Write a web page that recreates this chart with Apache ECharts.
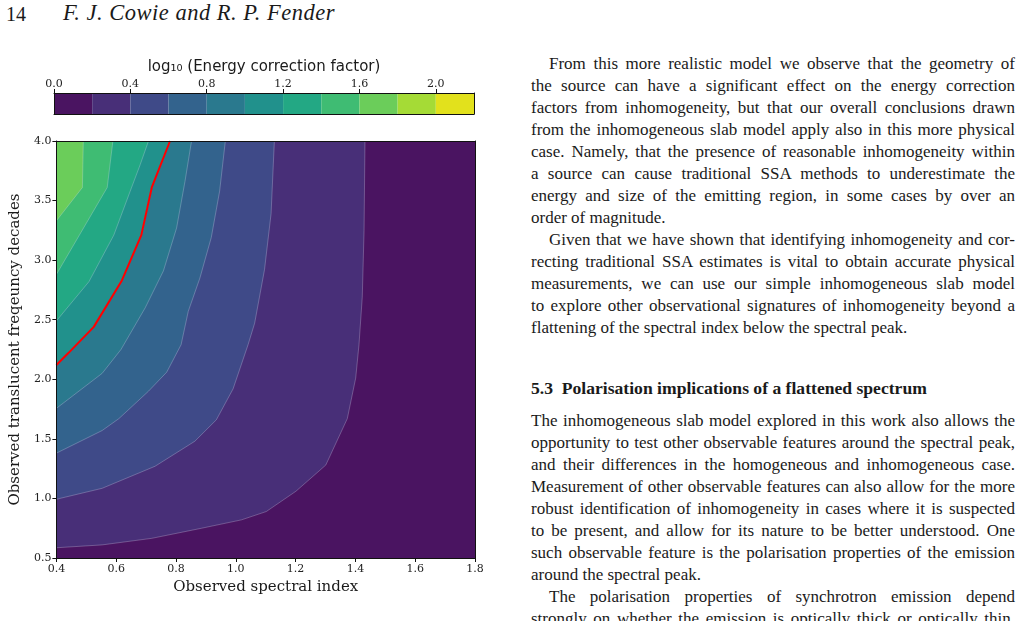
<!DOCTYPE html>
<html>
<head>
<meta charset="utf-8">
<script src="https://cdn.jsdelivr.net/npm/echarts@6/dist/echarts.min.js"></script>
<style>
  html, body { margin: 0; padding: 0; background: #fff; width: 1024px; height: 621px; overflow: hidden; }
  #chart { position: absolute; left: 0; top: 0; width: 500px; height: 621px; }
  .txt { position: absolute; font-family: "Liberation Serif", "Times New Roman", serif; color: #1a1a1a; }
  .head { top: 1px; font-size: 20px; line-height: 26px; }
  .name { font-size: 22.5px; font-style: italic; letter-spacing: 0.5px; top: 0px; }
  .col { left: 531px; width: 484px; font-size: 17px; line-height: 22px; white-space: nowrap; }
  .col div { height: 22px; }
  .j { text-align: justify; text-align-last: justify; }
  .ind { padding-left: 18px; }
  .h { font-weight: bold; font-size: 17.6px; }
</style>
</head>
<body>
<div class="txt head" style="left:6px;">14</div>
<div class="txt head name" style="left:63px;">F. J. Cowie and R. P. Fender</div>

<div class="txt col" style="top:53px;">
  <div class="j ind">From this more realistic model we observe that the geometry of</div>
  <div class="j">the source can have a significant effect on the energy correction</div>
  <div class="j">factors from inhomogeneity, but that our overall conclusions drawn</div>
  <div class="j">from the inhomogeneous slab model apply also in this more physical</div>
  <div class="j">case. Namely, that the presence of reasonable inhomogeneity within</div>
  <div class="j">a source can cause traditional SSA methods to underestimate the</div>
  <div class="j">energy and size of the emitting region, in some cases by over an</div>
  <div>order of magnitude.</div>
  <div class="j ind">Given that we have shown that identifying inhomogeneity and cor-</div>
  <div class="j">recting traditional SSA estimates is vital to obtain accurate physical</div>
  <div class="j">measurements, we can use our simple inhomogeneous slab model</div>
  <div class="j">to explore other observational signatures of inhomogeneity beyond a</div>
  <div>flattening of the spectral index below the spectral peak.</div>
</div>

<div class="txt col h" style="top:377px;">5.3&nbsp;&nbsp;Polarisation implications of a flattened spectrum</div>

<div class="txt col" style="top:410px;">
  <div class="j">The inhomogeneous slab model explored in this work also allows the</div>
  <div class="j">opportunity to test other observable features around the spectral peak,</div>
  <div class="j">and their differences in the homogeneous and inhomogeneous case.</div>
  <div class="j">Measurement of other observable features can also allow for the more</div>
  <div class="j">robust identification of inhomogeneity in cases where it is suspected</div>
  <div class="j">to be present, and allow for its nature to be better understood. One</div>
  <div class="j">such observable feature is the polarisation properties of the emission</div>
  <div>around the spectral peak.</div>
  <div class="j ind">The polarisation properties of synchrotron emission depend</div>
  <div class="j">strongly on whether the emission is optically thick or optically thin.</div>
</div>

<div id="chart"></div>

<script>
// axes
var xRange = [0.4, 1.8];
var yRange = [0.5, 4.0];
var xTickStep = 0.2;
var yTickStep = 0.5;

// contour levels (log10 energy correction factor) and colours
var levels = [0.0, 0.2, 0.4, 0.6, 0.8, 1.0, 1.2, 1.4, 1.6, 1.8, 2.0, 2.2];
var levelColors = ['#4a1461', '#482f78', '#3f4a88', '#33638d', '#2a798e', '#21918c',
                   '#23a884', '#3fbc73', '#6bcd5a', '#a5db36', '#e2e11c'];
var cbTicks = [0.0, 0.4, 0.8, 1.2, 1.6, 2.0];

// contour lines: [spectral index, frequency decades], top edge -> left edge
var contour02 = [[1.432, 4.0], [1.429, 3.25], [1.423, 2.69], [1.412, 2.29], [1.401, 2.01], [1.373, 1.67],
                 [1.301, 1.28], [1.201, 1.06], [1.102, 0.89], [1.019, 0.82], [0.886, 0.75], [0.719, 0.665],
                 [0.553, 0.61], [0.4, 0.586]];
var contour04 = [[1.129, 4.0], [1.118, 3.39], [1.096, 2.92], [1.063, 2.47], [1.041, 2.29], [0.991, 1.92],
                 [0.935, 1.66], [0.863, 1.48], [0.730, 1.27], [0.553, 1.085], [0.4, 0.993]];
var contour06 = [[0.965, 4.0], [0.946, 3.58], [0.918, 3.19], [0.880, 2.85], [0.841, 2.57], [0.817, 2.29],
                 [0.769, 2.06], [0.708, 1.90], [0.609, 1.67], [0.553, 1.57], [0.4, 1.38]];
var contour08 = [[0.852, 4.0], [0.830, 3.66], [0.802, 3.27], [0.758, 2.91], [0.697, 2.60], [0.616, 2.25],
                 [0.553, 2.05], [0.4, 1.756]];
var contour10 = [[0.780, 4.0], [0.719, 3.61], [0.684, 3.21], [0.619, 2.83], [0.525, 2.44], [0.440, 2.22],
                 [0.4, 2.12]];
var contour12 = [[0.708, 4.0], [0.680, 3.80], [0.647, 3.58], [0.592, 3.21], [0.509, 2.82], [0.4, 2.49]];
var contour14 = [[0.589, 4.0], [0.570, 3.61], [0.4, 2.88]];
var contour16 = [[0.490, 4.0], [0.487, 3.61], [0.4, 3.33]];

var contourLines = [contour02, contour04, contour06, contour08, contour10, contour12, contour14, contour16];

var serif = 'DejaVu Serif';
var myChart = echarts.init(document.getElementById('chart'));

function fmt1(v) { return v.toFixed(1); }

function lineOnly(extra) {
    var a = {
        type: 'value', z: 10,
        axisLine: { show: true, onZero: false, lineStyle: { color: '#111', width: 1 } },
        axisTick: { show: false }, axisLabel: { show: false }, splitLine: { show: false }
    };
    for (var k in extra) a[k] = extra[k];
    return a;
}

var fillData = [];
for (var i = 0; i <= contourLines.length; i++) fillData.push({ value: [xRange[0], yRange[1], i] });

var cbData = [];
for (var j = 0; j < levelColors.length; j++) cbData.push({ value: [levels[j], 0, j] });

var option = {
    animation: false,
    grid: [
        { left: 54, top: 141, width: 421, height: 417 },
        { left: 54, top: 93, width: 420, height: 21 }
    ],
    xAxis: [
        {
            gridIndex: 0, type: 'value', min: xRange[0], max: xRange[1], interval: xTickStep,
            position: 'bottom', z: 10,
            name: 'Observed spectral index', nameLocation: 'middle', nameGap: 22,
            nameTextStyle: { fontFamily: serif, fontSize: 15, color: '#1a1a1a' },
            axisLine: { show: true, onZero: false, lineStyle: { color: '#111', width: 1 } },
            axisTick: { show: true, length: 4, lineStyle: { color: '#111' } },
            axisLabel: { fontFamily: serif, fontSize: 11, color: '#222', margin: 6, formatter: fmt1 },
            splitLine: { show: false }
        },
        lineOnly({ gridIndex: 0, min: xRange[0], max: xRange[1], position: 'top' }),
        {
            gridIndex: 1, type: 'value', min: levels[0], max: levels[levels.length - 1],
            position: 'top', z: 10,
            name: 'log\u2081\u2080 (Energy correction factor)', nameLocation: 'middle', nameGap: 18,
            nameTextStyle: { fontFamily: 'DejaVu Sans', fontSize: 15, color: '#1a1a1a' },
            axisLine: { show: true, onZero: false, lineStyle: { color: '#111', width: 1 } },
            axisTick: { show: true, length: 4, customValues: cbTicks, lineStyle: { color: '#111' } },
            axisLabel: { fontFamily: serif, fontSize: 11, color: '#222', margin: 3,
                         customValues: cbTicks, formatter: fmt1 },
            splitLine: { show: false }
        },
        lineOnly({ gridIndex: 1, min: levels[0], max: levels[levels.length - 1], position: 'bottom' })
    ],
    yAxis: [
        {
            gridIndex: 0, type: 'value', min: yRange[0], max: yRange[1], interval: yTickStep,
            position: 'left', z: 10,
            name: 'Observed translucent freqeuncy decades', nameLocation: 'middle', nameGap: 23,
            nameTextStyle: { fontFamily: serif, fontSize: 15, color: '#1a1a1a' },
            axisLine: { show: true, onZero: false, lineStyle: { color: '#111', width: 1 } },
            axisTick: { show: true, length: 4, lineStyle: { color: '#111' } },
            axisLabel: { fontFamily: serif, fontSize: 11, color: '#222', margin: 5, formatter: fmt1 },
            splitLine: { show: false }
        },
        lineOnly({ gridIndex: 0, min: yRange[0], max: yRange[1], position: 'right' }),
        lineOnly({ gridIndex: 1, min: 0, max: 1, position: 'left' }),
        lineOnly({ gridIndex: 1, min: 0, max: 1, position: 'right' })
    ],
    series: [
        {
            // filled contour bands
            type: 'custom', xAxisIndex: 0, yAxisIndex: 0, z: 2,
            data: fillData,
            renderItem: function (params, api) {
                var k = api.value(2);
                var pts, border = null;
                if (k === 0) {
                    pts = [[xRange[0], yRange[0]], [xRange[1], yRange[0]], [xRange[1], yRange[1]], [xRange[0], yRange[1]]];
                } else {
                    border = contourLines[k - 1];
                    pts = border.concat([[xRange[0], yRange[1]]]);
                }
                var children = [{
                    type: 'polygon',
                    shape: { points: pts.map(function (p) { return api.coord(p); }) },
                    style: { fill: levelColors[k] }
                }];
                if (border) {
                    children.push({
                        type: 'polyline',
                        shape: { points: border.map(function (p) { return api.coord(p); }) },
                        style: { fill: null, stroke: 'rgba(225,225,245,0.35)', lineWidth: 0.8 }
                    });
                }
                return { type: 'group', children: children };
            }
        },
        {
            // energy correction factor of 10
            type: 'line', xAxisIndex: 0, yAxisIndex: 0, z: 5,
            data: contour10, showSymbol: false, symbol: 'none',
            lineStyle: { color: '#ff0000', width: 2 }
        },
        {
            // colour bar
            type: 'custom', xAxisIndex: 2, yAxisIndex: 2, z: 2,
            data: cbData,
            renderItem: function (params, api) {
                var k = api.value(2);
                var p0 = api.coord([levels[k], 0]);
                var p1 = api.coord([levels[k + 1], 1]);
                return {
                    type: 'rect',
                    shape: { x: p0[0], y: p1[1], width: p1[0] - p0[0], height: p0[1] - p1[1] },
                    style: { fill: levelColors[k] }
                };
            }
        }
    ]
};

myChart.setOption(option);

// squeeze any justified line that is wider than the column
document.querySelectorAll('.col div').forEach(function (el) {
    var ws = 0;
    while (el.scrollWidth > el.clientWidth + 0.5 && ws > -4) {
        ws -= 0.25;
        el.style.wordSpacing = ws + 'px';
    }
});
</script>
</body>
</html>
